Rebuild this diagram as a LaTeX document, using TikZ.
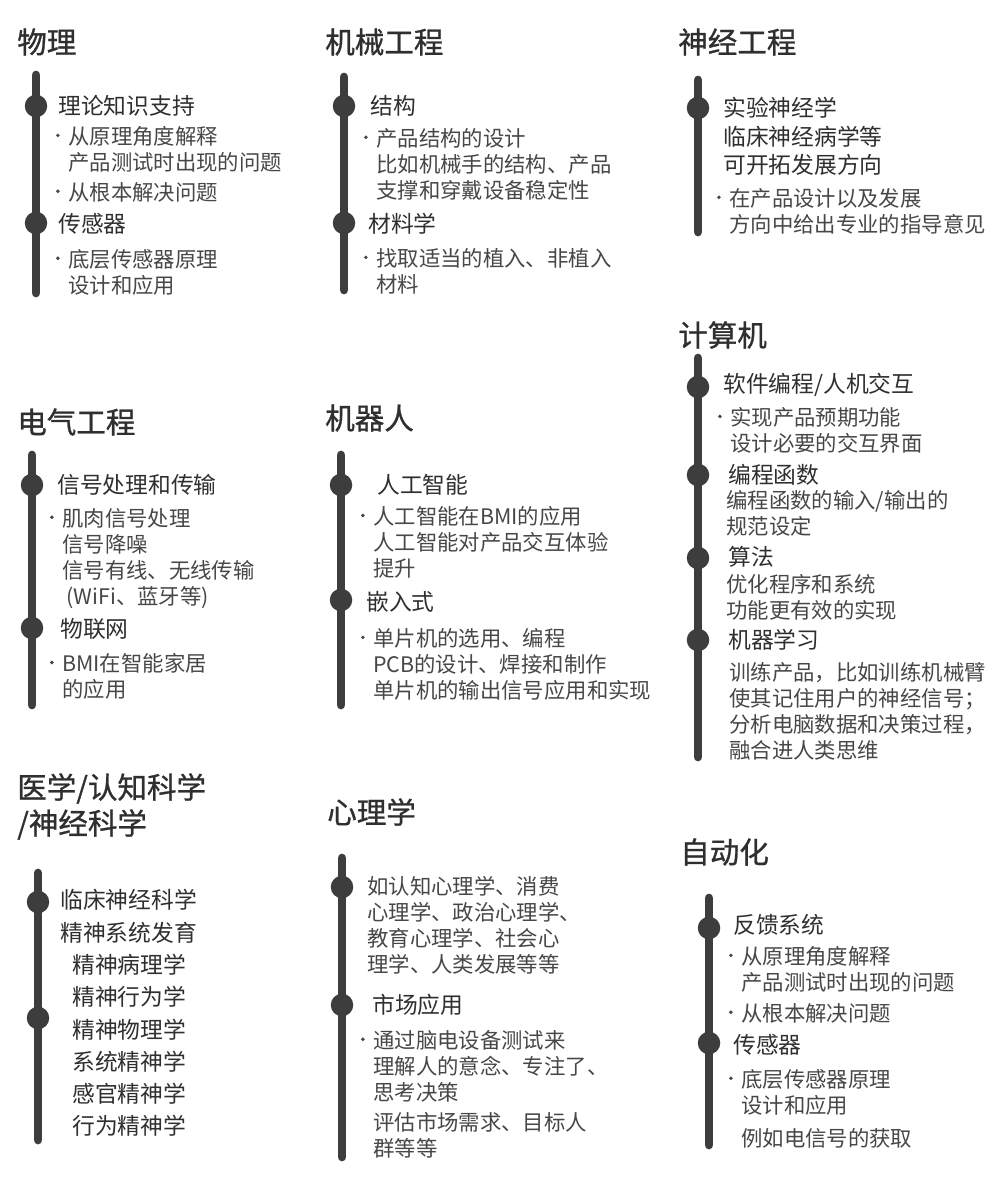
\documentclass[tikz,border=0pt]{standalone}
\usepackage{fontspec}
\setmainfont{Noto Sans CJK SC}
\newfontfamily\titlefont[FakeBold=0.9]{Noto Sans CJK SC}
\usetikzlibrary{positioning}

\definecolor{ink}{HTML}{2F2F2F}
\definecolor{txt}{HTML}{474747}
\definecolor{barc}{HTML}{3D3D3D}
% small bullet in front of a line
\newcommand{\bul}{\makebox[0pt][r]{\tikz[baseline]\fill[txt] (0,0.42em) circle (1.4pt);\hspace{6pt}}}

\begin{document}
\begin{tikzpicture}[x=0.025cm, y=-0.025cm,
    title/.style={anchor=west, inner sep=0, text=ink, align=left,
                  font=\titlefont\fontsize{21pt}{25.6pt}\selectfont},
    head/.style={anchor=west, inner sep=0, text=ink, align=left,
                 font=\fontsize{16.2pt}{20.3pt}\selectfont},
    body/.style={anchor=north west, inner sep=0, text=txt, align=left,
                 font=\fontsize{15.2pt}{18.5pt}\selectfont},
    bar/.style={draw=barc, line width=6.2pt, line cap=round},
    dot/.style={circle, fill=barc, minimum size=16pt, inner sep=0}
]
  \fill[white] (0,0) rectangle (1000,1184);
  \useasboundingbox (0,0) rectangle (1000,1184);

  % 物理
  \node[title] (t1) at (17,42) {物理};
  \coordinate (b1a) at (36,75);
  \coordinate (b1b) at (36,293);
  \draw[bar] (b1a) -- (b1b);
  \node[dot] (d1a) at (36,106) {};
  \node[dot] (d1b) at (36,223) {};
  \node[head] (h1a) at (58,106) {理论知识支持};
  \node[body] (p1a) at (68,126) {\bul 从原理角度解释\\产品测试时出现的问题};
  \node[body] (p1b) at (68,182) {\bul 从根本解决问题};
  \node[head] (h1b) at (58,224) {传感器};
  \node[body] (p1c) at (68,249) {\bul 底层传感器原理\\设计和应用};

  % 机械工程
  \node[title] (t2) at (325,42) {机械工程};
  \coordinate (b2a) at (344,77);
  \coordinate (b2b) at (344,290);
  \draw[bar] (b2a) -- (b2b);
  \node[dot] (d2a) at (344,106) {};
  \node[dot] (d2b) at (344,223) {};
  \node[head] (h2a) at (370,106) {结构};
  \node[body] (p2a) at (376,128) {\bul 产品结构的设计\\比如机械手的结构、产品\\支撑和穿戴设备稳定性};
  \node[head] (h2b) at (368,224) {材料学};
  \node[body] (p2b) at (376,248) {\bul 找取适当的植入、非植入\\材料};

  % 神经工程
  \node[title] (t3) at (678,42) {神经工程};
  \coordinate (b3a) at (698,80);
  \coordinate (b3b) at (698,232);
  \draw[bar] (b3a) -- (b3b);
  \node[dot] (d3a) at (698,108) {};
  \node[head, anchor=north west] (h3a) at (723,97)
    {实验神经学\\临床神经病学等\\可开拓发展方向};
  \node[body] (p3a) at (729,188) {\bul 在产品设计以及发展\\方向中给出专业的指导意见};

  % 电气工程
  \node[title] (t4) at (17,422) {电气工程};
  \coordinate (b4a) at (32,455);
  \coordinate (b4b) at (32,705);
  \draw[bar] (b4a) -- (b4b);
  \node[dot] (d4a) at (32,485) {};
  \node[dot] (d4b) at (32,628) {};
  \node[head] (h4a) at (57,485) {信号处理和传输};
  \node[body] (p4a) at (62,508) {\bul 肌肉信号处理\\信号降噪\\信号有线、无线传输\\\hspace{0.2em}(WiFi、蓝牙等)};
  \node[head] (h4b) at (60,629) {物联网};
  \node[body] (p4b) at (62,653) {\bul BMI在智能家居\\的应用};

  % 机器人
  \node[title] (t5) at (325,418) {机器人};
  \coordinate (b5a) at (341,455);
  \coordinate (b5b) at (341,705);
  \draw[bar] (b5a) -- (b5b);
  \node[dot] (d5a) at (341,485) {};
  \node[dot] (d5b) at (341,600) {};
  \node[head] (h5a) at (377,485) {人工智能};
  \node[body] (p5a) at (373,506) {\bul 人工智能在BMI的应用\\人工智能对产品交互体验\\提升};
  \node[head] (h5b) at (366,602) {嵌入式};
  \node[body] (p5b) at (373,628) {\bul 单片机的选用、编程\\PCB的设计、焊接和制作\\单片机的输出信号应用和实现};

  % 计算机
  \node[title] (t6) at (678,335) {计算机};
  \coordinate (b6a) at (698,358);
  \coordinate (b6b) at (698,757);
  \draw[bar] (b6a) -- (b6b);
  \node[dot] (d6a) at (698,387) {};
  \node[dot] (d6b) at (698,475) {};
  \node[dot] (d6c) at (698,558) {};
  \node[dot] (d6d) at (698,640) {};
  \node[head] (h6a) at (723,385) {软件编程/人机交互};
  \node[body] (p6a) at (730,407) {\bul 实现产品预期功能\\设计必要的交互界面};
  \node[head] (h6b) at (728,475) {编程函数};
  \node[body] (p6b) at (726,490) {编程函数的输入/输出的\\规范设定};
  \node[head] (h6c) at (728,557) {算法};
  \node[body] (p6c) at (726,574) {优化程序和系统\\功能更有效的实现};
  \node[head] (h6d) at (728,640) {机器学习};
  \node[body] (p6d) at (729,662) {训练产品，比如训练机械臂\\使其记住用户的神经信号；\\分析电脑数据和决策过程，\\融合进人类思维};

  % 医学/认知科学/神经科学
  \node[title, anchor=north west] (t7) at (17,773) {医学/认知科学\\/神经科学};
  \coordinate (b7a) at (38,873);
  \coordinate (b7b) at (38,1140);
  \draw[bar] (b7a) -- (b7b);
  \node[dot] (d7a) at (38,902) {};
  \node[dot] (d7b) at (38,1018) {};
  \node[head, anchor=north west, font=\fontsize{16.2pt}{23.2pt}\selectfont] (h7a) at (60,889)
    {临床神经科学\\精神系统发育};
  \node[head, anchor=north west, font=\fontsize{16.2pt}{22.9pt}\selectfont] (h7b) at (72,954)
    {精神病理学\\精神行为学\\精神物理学\\系统精神学\\感官精神学\\行为精神学};

  % 心理学
  \node[title] (t8) at (327,812) {心理学};
  \coordinate (b8a) at (342,858);
  \coordinate (b8b) at (342,1157);
  \draw[bar] (b8a) -- (b8b);
  \node[dot] (d8a) at (342,887) {};
  \node[dot] (d8b) at (342,1005) {};
  \node[body] (p8a) at (367,876) {如认知心理学、消费\\心理学、政治心理学、\\教育心理学、社会心\\理学、人类发展等等};
  \node[head] (h8a) at (372,1005) {市场应用};
  \node[body] (p8b) at (373,1030) {\bul 通过脑电设备测试来\\理解人的意念、专注了、\\思考决策};
  \node[body] (p8c) at (373,1112) {评估市场需求、目标人\\群等等};

  % 自动化
  \node[title] (t9) at (680,852) {自动化};
  \coordinate (b9a) at (709,898);
  \coordinate (b9b) at (709,1145);
  \draw[bar] (b9a) -- (b9b);
  \node[dot] (d9a) at (709,928) {};
  \node[dot] (d9b) at (709,1043) {};
  \node[head] (h9a) at (733,925) {反馈系统};
  \node[body] (p9a) at (741,946) {\bul 从原理角度解释\\产品测试时出现的问题};
  \node[body] (p9b) at (741,1003) {\bul 从根本解决问题};
  \node[head] (h9b) at (733,1045) {传感器};
  \node[body] (p9c) at (741,1069) {\bul 底层传感器原理\\设计和应用};
  \node[body] (p9d) at (741,1128) {例如电信号的获取};
\end{tikzpicture}
\end{document}
